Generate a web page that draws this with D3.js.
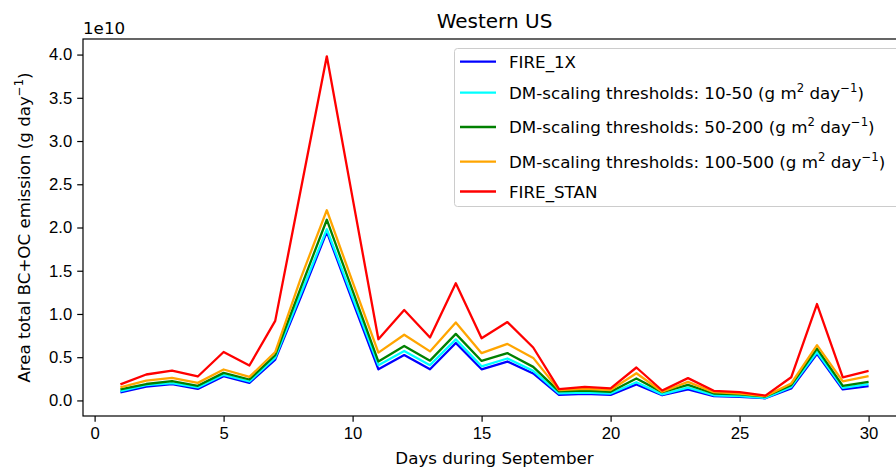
<!DOCTYPE html>
<html>
<head>
<meta charset="utf-8">
<script src="https://cdn.jsdelivr.net/npm/d3@7"></script>
<style>
  body { margin: 0; background: #fff; }
  svg { display: block; font-family: "DejaVu Sans", sans-serif; }
  .axis text { font-size: 16.7px; fill: #000; }
  .axis path, .axis line { stroke: #000; stroke-width: 1.2; }
</style>
</head>
<body>
<svg id="canvas"></svg>
<script>
// values are in units of 1e10 g/day
let days = d3.range(1, 31)

let fire1x   = [0.092,0.16,0.188,0.134,0.28,0.203,0.473,1.2,1.95,1.15,0.36,0.525,0.36,0.665,0.36,0.45,0.312,0.065,0.076,0.065,0.185,0.06,0.127,0.05,0.042,0.025,0.138,0.54,0.127,0.165]
let dm10_50  = [0.107,0.177,0.2,0.15,0.296,0.219,0.496,1.24,1.98,1.19,0.408,0.572,0.408,0.706,0.395,0.485,0.342,0.081,0.09,0.08,0.21,0.07,0.148,0.06,0.05,0.03,0.157,0.56,0.146,0.188]
let dm50_200 = [0.127,0.19,0.223,0.169,0.319,0.242,0.523,1.31,2.09,1.27,0.45,0.63,0.46,0.77,0.457,0.547,0.388,0.104,0.115,0.1,0.254,0.096,0.18,0.08,0.07,0.045,0.177,0.6,0.169,0.215]
let dm100_500= [0.15,0.23,0.26,0.203,0.358,0.272,0.56,1.42,2.2,1.37,0.553,0.76,0.567,0.902,0.547,0.654,0.492,0.119,0.135,0.12,0.315,0.1,0.215,0.095,0.08,0.05,0.196,0.639,0.22,0.28]
let fireStan = [0.185,0.30,0.346,0.277,0.56,0.404,0.92,2.45,3.98,2.34,0.708,1.045,0.728,1.355,0.72,0.906,0.612,0.132,0.157,0.14,0.381,0.115,0.258,0.111,0.096,0.056,0.268,1.115,0.268,0.342]

let seriesNames = ['FIRE_1X', 'DM-scaling thresholds: 10-50', 'DM-scaling thresholds: 50-200', 'DM-scaling thresholds: 100-500', 'FIRE_STAN']
let seriesValues = [fire1x, dm10_50, dm50_200, dm100_500, fireStan]
let seriesColors = ['#0000ff', '#00ffff', '#008000', '#ffa500', '#ff0000']
let xTicks = [0, 5, 10, 15, 20, 25, 30]
let yTicks = [0, 0.5, 1, 1.5, 2, 2.5, 3, 3.5, 4]

const width = 896
const height = 468
const plotLeft = 83, plotRight = 906, plotTop = 39, plotBottom = 416
const fs = 16.7

let canvas = d3.select('#canvas')
canvas.attr('width', width).attr('height', height)

let xScale = d3.scaleLinear().domain([-0.45, 31.45]).range([plotLeft, plotRight])
let yScale = d3.scaleLinear().domain([-0.18, 4.18]).range([plotBottom, plotTop])

// axes
canvas.append('g')
    .attr('class', 'axis')
    .attr('transform', 'translate(0,' + plotBottom + ')')
    .call(d3.axisBottom(xScale).tickValues(xTicks).tickSize(5.8).tickPadding(5).tickFormat(d3.format('d')))
    .call(g => g.select('.domain').remove())

canvas.append('g')
    .attr('class', 'axis')
    .attr('transform', 'translate(' + plotLeft + ',0)')
    .call(d3.axisLeft(yScale).tickValues(yTicks).tickSize(5.8).tickPadding(5).tickFormat(d3.format('.1f')))
    .call(g => g.select('.domain').remove())

// lines
let line = d3.line()
    .x((d, i) => xScale(days[i]))
    .y(d => yScale(d))

seriesValues.forEach((vals, i) => {
    canvas.append('path')
        .datum(vals)
        .attr('d', line)
        .attr('fill', 'none')
        .attr('stroke', seriesColors[i])
        .attr('stroke-width', 2.3)
        .attr('stroke-linejoin', 'round')
})

// frame
canvas.append('rect')
    .attr('x', plotLeft).attr('y', plotTop)
    .attr('width', plotRight - plotLeft).attr('height', plotBottom - plotTop)
    .attr('fill', 'none').attr('stroke', '#000').attr('stroke-width', 1.2)

// titles
canvas.append('text')
    .attr('x', (plotLeft + plotRight) / 2).attr('y', 28)
    .attr('text-anchor', 'middle')
    .attr('font-size', 20)
    .text('Western US')

canvas.append('text')
    .attr('x', plotLeft).attr('y', 34)
    .attr('font-size', fs)
    .text('1e10')

canvas.append('text')
    .attr('x', (plotLeft + plotRight) / 2).attr('y', 464)
    .attr('text-anchor', 'middle')
    .attr('font-size', fs)
    .text('Days during September')

let ylab = canvas.append('text')
    .attr('transform', 'translate(30,' + ((plotTop + plotBottom) / 2) + ') rotate(-90)')
    .attr('text-anchor', 'middle')
    .attr('font-size', fs)
ylab.append('tspan').text('Area total BC+OC emission (g day')
ylab.append('tspan').attr('font-size', 11.7).attr('dy', -7).text('\u22121')
ylab.append('tspan').attr('dy', 7).text(')')

// legend
let legend = canvas.append('g')
legend.append('rect')
    .attr('x', 454.5).attr('y', 48.5)
    .attr('width', 470).attr('height', 158)
    .attr('rx', 3)
    .attr('fill', '#fff').attr('fill-opacity', 0.8)
    .attr('stroke', '#cccccc').attr('stroke-width', 1)

let rowY = [61.7, 92.7, 127, 161.7, 191.5]
seriesNames.forEach((name, i) => {
    let y = rowY[i]
    legend.append('line')
        .attr('x1', 460).attr('x2', 496)
        .attr('y1', y).attr('y2', y)
        .attr('stroke', seriesColors[i]).attr('stroke-width', 2.3)
    let t = legend.append('text')
        .attr('x', 509).attr('y', y + 6)
        .attr('font-size', fs)
    if (name.startsWith('DM')) {
        t.append('tspan').text(name + ' (g m')
        t.append('tspan').attr('font-size', 11.7).attr('dy', -7).text('2')
        t.append('tspan').attr('dy', 7).text(' day')
        t.append('tspan').attr('font-size', 11.7).attr('dy', -7).text('\u22121')
        t.append('tspan').attr('dy', 7).text(')')
    } else {
        t.text(name)
    }
})
</script>
</body>
</html>
